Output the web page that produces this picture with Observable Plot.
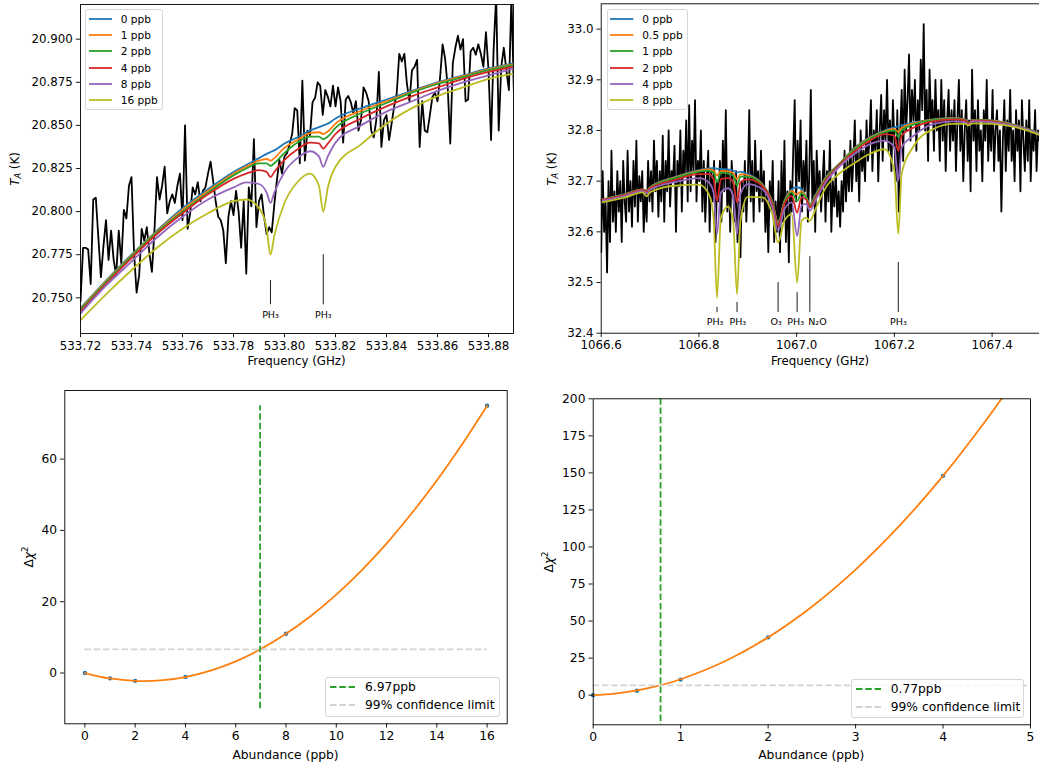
<!DOCTYPE html>
<html><head><meta charset="utf-8">
<script src="https://cdn.jsdelivr.net/npm/d3@7"></script>
<script src="https://cdn.jsdelivr.net/npm/@observablehq/plot@0.6"></script>
<style>
html,body{margin:0;padding:0;background:#fff;}
#fig{position:relative;width:1039px;height:770px;overflow:hidden;font-family:"DejaVu Sans",sans-serif;color:#000;background:#fff;}
.panel{position:absolute;}
.lab{position:absolute;white-space:nowrap;line-height:1;}
.ylab{transform:translate(-50%,-50%) rotate(-90deg);}
.xlab{transform:translate(-50%,-50%);}
.legbox{position:absolute;border:1px solid #d6d6d6;border-radius:3px;background:rgba(255,255,255,0.8);box-sizing:border-box;}
.legtxt{position:absolute;white-space:nowrap;line-height:1;transform:translateY(-50%);}
.legsw{position:absolute;overflow:visible;}
</style></head>
<body><div id="fig"></div>
<script>
// ---------- colours ----------
const tab = ["#1f77b4","#ff7f0e","#2ca02c","#d62728","#9467bd","#bcbd22"];

// ---------- top-left: 533.8 GHz spectrum ----------
const tlStart = 533.720, tlStep = 0.001;
const tlSpectrum = [
20.748,20.779,20.779,20.778,20.758,20.807,20.808,20.785,20.762,20.780,
20.795,20.772,20.789,20.772,20.763,20.789,20.770,20.801,20.796,20.815,
20.820,20.776,20.753,20.763,20.790,20.783,20.791,20.776,20.765,20.789,
20.820,20.807,20.815,20.826,20.799,20.806,20.810,20.805,20.815,20.822,
20.795,20.850,20.790,20.799,20.814,20.810,20.817,20.806,20.812,20.814,
20.822,20.829,20.818,20.806,20.797,20.795,20.789,20.770,20.797,20.806,
20.798,20.812,20.800,20.779,20.806,20.764,20.814,20.803,20.842,20.791,
20.806,20.810,20.797,20.787,20.791,20.788,20.804,20.818,20.830,20.822,
20.832,20.834,20.839,20.845,20.860,
20.8587,20.828,20.876,20.8295,20.847,20.8443,20.8635,20.866,20.875,20.873,
20.856,20.8705,20.8665,20.861,20.873,20.861,20.872,20.864,20.840,20.865,
20.867,20.8635,20.857,20.864,20.847,20.853,20.872,20.869,20.864,20.847,
20.843,20.853,20.881,20.8375,20.853,20.856,20.8415,20.851,20.861,20.8685,
20.8915,20.887,20.8915,20.874,20.864,20.882,20.884,20.888,20.8375,20.864,
20.847,20.846,20.856,20.8665,20.869,20.864,20.8775,20.897,20.8885,20.872,
20.8395,20.886,20.895,20.902,20.894,20.900,20.864,20.865,20.893,20.895,
20.891,20.897,20.8915,20.884,20.904,20.882,20.8415,20.894,20.925,20.847,
20.884,20.895,20.882,20.8705,20.925,20.866
];
const tlModelFreq = [533.72,533.73,533.74,533.75,533.76,533.77,533.78,533.785,533.79,533.793,533.7945,533.796,533.80,533.805,533.81,533.8135,533.8152,533.817,533.82,533.83,533.84,533.85,533.86,533.87,533.88,533.89];
const tl0ppb  = [20.744,20.760,20.775,20.789,20.802,20.813,20.823,20.827,20.831,20.8335,20.8345,20.8355,20.8395,20.843,20.847,20.849,20.850,20.851,20.854,20.860,20.865,20.870,20.875,20.879,20.883,20.886];
const tl1ppb  = [20.7435,20.7595,20.7745,20.7885,20.801,20.812,20.822,20.826,20.8295,20.8305,20.8295,20.831,20.837,20.8415,20.8455,20.846,20.845,20.8465,20.851,20.8585,20.864,20.8695,20.8745,20.8785,20.8825,20.8855];
const tl2ppb  = [20.743,20.759,20.774,20.788,20.800,20.811,20.821,20.825,20.828,20.828,20.8265,20.828,20.834,20.840,20.8435,20.8435,20.842,20.8435,20.8485,20.857,20.863,20.869,20.874,20.878,20.882,20.885];
const tl4ppb  = [20.742,20.758,20.773,20.787,20.799,20.810,20.819,20.822,20.824,20.823,20.820,20.823,20.830,20.836,20.840,20.8395,20.8365,20.8395,20.845,20.854,20.861,20.867,20.872,20.877,20.881,20.884];
const tl8ppb  = [20.741,20.757,20.771,20.785,20.797,20.807,20.814,20.817,20.816,20.811,20.805,20.811,20.823,20.831,20.835,20.832,20.826,20.832,20.840,20.850,20.858,20.864,20.870,20.875,20.879,20.883];
const tl16ppb = [20.737,20.752,20.766,20.779,20.790,20.799,20.806,20.807,20.802,20.790,20.775,20.786,20.805,20.817,20.822,20.815,20.800,20.814,20.826,20.839,20.851,20.860,20.867,20.872,20.877,20.880];
const tlLegend = ["0 ppb","1 ppb","2 ppb","4 ppb","8 ppb","16 ppb"];
const tlLineFreq = [533.7945, 533.8152];
const tlLineTop = [20.760, 20.775];
const tlLineBottom = 20.746;
const tlLabelY = 20.7398;
const tlLabelText = ["PH₃","PH₃"];
const tlXTicks = [533.72,533.74,533.76,533.78,533.80,533.82,533.84,533.86,533.88];
const tlYTicks = [20.750,20.775,20.800,20.825,20.850,20.875,20.900];

// ---------- top-right: 1067 GHz spectrum ----------
const trStart = 1066.600, trStep = 0.003;
const trSpectrum = [
32.56,32.72,32.60,32.66,32.52,32.70,32.58,32.76,32.62,32.68,
32.60,32.72,32.64,32.70,32.58,32.74,32.66,32.62,32.76,32.64,
32.70,32.61,32.74,32.65,32.78,32.62,32.71,32.66,32.72,32.60,
32.68,32.62,32.74,32.66,32.72,32.64,32.78,32.68,32.74,32.63,
32.72,32.66,32.79,32.62,32.74,32.68,32.80,32.65,32.72,32.70,
32.77,32.60,32.74,32.69,32.80,32.64,32.76,32.71,32.82,32.66,
32.85,32.68,32.78,32.72,32.86,32.66,32.74,32.70,32.80,32.64,
32.74,32.62,32.70,32.76,32.60,32.72,32.66,32.74,32.58,32.70,
32.66,32.74,32.62,32.78,32.68,32.84,32.64,32.72,32.60,32.74,
32.68,32.62,32.72,32.58,32.66,32.55,32.70,32.64,32.74,32.62,
32.70,32.84,32.66,32.74,32.62,32.78,32.68,32.72,32.64,32.76,
32.66,32.72,32.60,32.68,32.56,32.70,32.64,32.74,32.58,32.66,
32.60,32.70,32.56,32.74,32.62,32.78,32.58,32.68,32.54,32.70,
32.64,32.76,32.86,32.66,32.78,32.70,32.82,32.64,32.74,32.68,
32.78,32.62,32.72,32.88,32.66,32.74,32.60,32.76,32.68,32.72,
32.64,32.70,32.76,32.62,32.72,32.66,32.78,32.60,32.70,32.65,
32.72,32.63,32.68,32.61,32.70,32.64,32.76,32.66,32.74,32.68,
32.78,32.68,32.74,32.82,32.70,32.76,32.66,32.80,32.72,32.76,
32.70,32.82,32.74,32.78,32.86,32.72,32.80,32.76,32.84,32.70,
32.80,32.87,32.74,32.84,32.78,32.90,32.76,32.82,32.72,32.86,
32.78,32.70,32.84,32.64,32.80,32.88,32.74,32.92,32.80,32.86,
32.95,32.78,32.88,32.82,32.90,32.76,32.86,32.80,32.94,32.84,
33.01,32.80,32.88,32.74,32.92,32.82,32.86,32.76,32.90,32.80,
32.84,32.74,32.90,32.78,32.86,32.72,32.82,32.88,32.76,32.84,
32.78,32.86,32.72,32.82,32.90,32.76,32.84,32.70,32.80,32.86,
32.74,32.82,32.68,32.92,32.78,32.84,32.72,32.86,32.76,32.80,
32.70,32.84,32.78,32.90,32.74,32.82,32.76,32.88,32.72,32.80,
32.84,32.74,32.80,32.64,32.78,32.86,32.72,32.82,32.76,32.88,
32.74,32.80,32.70,32.84,32.76,32.82,32.68,32.86,32.78,32.72,
32.82,32.74,32.86,32.70,32.80,32.76,32.84,32.72,32.80,32.78,
32.79
];
const trModelFreq = [1066.60,1066.65,1066.685,1066.693,1066.70,1066.75,1066.80,1066.82,1066.83,1066.837,1066.845,1066.86,1066.87,1066.878,1066.885,1066.90,1066.93,1066.95,1066.962,1066.975,1066.99,1067.001,1067.01,1067.02,1067.027,1067.04,1067.06,1067.09,1067.12,1067.15,1067.18,1067.20,1067.208,1067.215,1067.24,1067.28,1067.32,1067.345,1067.352,1067.36,1067.40,1067.45,1067.50];
const tr0ppb  = [32.663,32.675,32.684,32.681,32.688,32.708,32.722,32.725,32.726,32.7245,32.724,32.723,32.721,32.717,32.719,32.714,32.694,32.661,32.619,32.661,32.684,32.688,32.684,32.668,32.655,32.675,32.708,32.737,32.767,32.787,32.800,32.806,32.808,32.810,32.816,32.822,32.825,32.822,32.814,32.821,32.820,32.810,32.793];
const tr05ppb = [32.6633,32.6745,32.684,32.6805,32.6875,32.707,32.7205,32.723,32.7215,32.711,32.7205,32.719,32.716,32.704,32.714,32.7115,32.693,32.6595,32.617,32.6595,32.681,32.674,32.680,32.667,32.653,32.6735,32.7065,32.7365,32.7655,32.7855,32.7985,32.803,32.797,32.805,32.814,32.8215,32.824,32.8215,32.8135,32.821,32.8195,32.8095,32.793];
const tr1ppb  = [32.6635,32.674,32.6835,32.680,32.687,32.706,32.719,32.721,32.717,32.698,32.717,32.715,32.711,32.691,32.709,32.709,32.692,32.658,32.615,32.658,32.678,32.661,32.676,32.666,32.651,32.672,32.705,32.736,32.764,32.784,32.797,32.800,32.787,32.800,32.812,32.821,32.823,32.821,32.813,32.821,32.819,32.809,32.793];
const tr2ppb  = [32.663,32.673,32.683,32.679,32.686,32.702,32.714,32.714,32.704,32.661,32.704,32.706,32.698,32.658,32.698,32.704,32.690,32.655,32.612,32.655,32.671,32.638,32.668,32.663,32.648,32.669,32.702,32.734,32.760,32.780,32.793,32.790,32.760,32.790,32.806,32.818,32.822,32.820,32.813,32.820,32.818,32.808,32.792];
const tr4ppb  = [32.661,32.671,32.681,32.676,32.683,32.698,32.706,32.698,32.678,32.596,32.678,32.686,32.671,32.596,32.675,32.694,32.684,32.648,32.602,32.645,32.658,32.592,32.652,32.655,32.642,32.665,32.698,32.731,32.755,32.773,32.780,32.767,32.701,32.767,32.790,32.813,32.818,32.816,32.811,32.818,32.816,32.808,32.792];
const tr8ppb  = [32.658,32.668,32.678,32.670,32.678,32.691,32.693,32.675,32.628,32.470,32.628,32.650,32.622,32.477,32.622,32.669,32.668,32.635,32.579,32.622,32.635,32.500,32.622,32.628,32.622,32.648,32.688,32.717,32.737,32.754,32.763,32.720,32.596,32.715,32.770,32.803,32.813,32.813,32.810,32.814,32.813,32.806,32.790];
const trLegend = ["0 ppb","0.5 ppb","1 ppb","2 ppb","4 ppb","8 ppb"];
const trLineFreq = [1066.837,1066.878,1066.962,1067.001,1067.027,1067.208];
const trLineTop = [32.451,32.4605,32.500,32.480,32.551,32.5395];
const trLineBottom = 32.441;
const trLabelFreq = [1066.833,1066.8795,1066.958,1066.998,1067.0425,1067.2083];
const trLabelY = 32.4223;
const trLabelText = ["PH₃","PH₃","O₃","PH₃","N₂O","PH₃"];
const trXTicks = [1066.6,1066.8,1067.0,1067.2,1067.4];
const trYTicks = [32.4,32.5,32.6,32.7,32.8,32.9,33.0];

// ---------- bottom-left: Δχ² for 533.8 GHz ----------
const blAbund = [0,1,2,4,8,16];
const blChi = [0,-1.5,-2.2,-1.1,11,75];
const blFitX = [0,1,2,3,4,5,6,7,8,9,10,11,12,13,14,15,16];
const blFitY = [0,-1.53,-2.22,-2.09,-1.14,0.65,3.26,6.71,10.98,16.07,22.0,28.75,36.3,44.8,54.0,64.1,75.0];
const blLimit = 6.97;
const blLimitSpan = [-10, 75];
const blConf = 6.63;
const blConfSpan = [0, 16];
const blLegend = ["6.97ppb","99% confidence limit"];
const blXTicks = [0,2,4,6,8,10,12,14,16];
const blYTicks = [0,20,40,60];

// ---------- bottom-right: Δχ² for 1067 GHz ----------
const brAbund = [0,0.5,1,2,4];
const brChi = [0,3,10.5,39,148];
const brFitX = [0,0.25,0.5,0.75,1,1.5,2,2.5,3,3.5,4,4.5,4.75];
const brFitY = [0,1.05,3.19,6.42,10.75,22.69,39,59.69,84.75,114.2,148,186.2,206.9];
const brLimit = 0.77;
const brConf = 6.63;
const brConfSpan = [0, 5];
const brLegend = ["0.77ppb","99% confidence limit"];
const brXTicks = [0,1,2,3,4,5];
const brYTicks = [0,25,50,75,100,125,150,175,200];

// ---------- build ----------
const fig = document.getElementById("fig");
const LW = 1.8;
const dash = "6.5,2.8";

function panel(o) {
  const svg = Plot.plot({
    width: o.w, height: o.h,
    marginLeft: o.ml, marginRight: o.mr, marginTop: o.mt, marginBottom: o.mb,
    style: {fontFamily: "DejaVu Sans, sans-serif", fontSize: o.fs + "px", color: "#000", background: "transparent", overflow: "visible"},
    x: {domain: o.xd},
    y: {domain: o.yd},
    marks: [
      ...o.marks,
      Plot.frame({stroke: "#000", strokeWidth: 0.9}),
      Plot.axisX({ticks: o.xt, tickFormat: o.xf, tickSize: 4.2, tickPadding: 3.5, label: null, stroke: "#000", strokeWidth: 0.9}),
      Plot.axisY({ticks: o.yt, tickFormat: o.yf, tickSize: 4.2, tickPadding: 3.5, label: null, stroke: "#000", strokeWidth: 0.9})
    ]
  });
  const d = document.createElement("div");
  d.className = "panel";
  d.style.left = o.left + "px";
  d.style.top = o.top + "px";
  d.appendChild(svg);
  fig.appendChild(d);
}

function label(html, x, y, fs, rot) {
  const d = document.createElement("div");
  d.className = "lab " + (rot ? "ylab" : "xlab");
  d.style.left = x + "px"; d.style.top = y + "px"; d.style.fontSize = fs + "px";
  d.innerHTML = html;
  fig.appendChild(d);
}

function legend(box, items, colors, dashes, sw1, sw2, tx, rows, fs) {
  const b = document.createElement("div");
  b.className = "legbox";
  b.style.left = box[0] + "px"; b.style.top = box[1] + "px";
  b.style.width = (box[2] - box[0]) + "px"; b.style.height = (box[3] - box[1]) + "px";
  fig.appendChild(b);
  items.forEach((t, i) => {
    const s = document.createElementNS("http://www.w3.org/2000/svg", "svg");
    s.setAttribute("class", "legsw");
    s.setAttribute("width", sw2 - sw1); s.setAttribute("height", 6);
    s.style.left = sw1 + "px"; s.style.top = (rows[i] - 3) + "px";
    s.innerHTML = `<line x1="0" y1="3" x2="${sw2 - sw1}" y2="3" stroke="${colors[i]}" stroke-width="${LW}" ${dashes ? `stroke-dasharray="${dash}"` : ""}/>`;
    fig.appendChild(s);
    const d = document.createElement("div");
    d.className = "legtxt";
    d.style.left = tx + "px"; d.style.top = rows[i] + "px"; d.style.fontSize = fs + "px";
    d.textContent = t;
    fig.appendChild(d);
  });
}

// top-left
const tlSpec = tlSpectrum.map((v, i) => ({f: tlStart + i * tlStep, t: v}));
const tlSeries = [tl0ppb, tl1ppb, tl2ppb, tl4ppb, tl8ppb, tl16ppb];
const tlMarkers = tlLineFreq.map((f, i) => ({f, top: tlLineTop[i], bot: tlLineBottom, ly: tlLabelY, txt: tlLabelText[i]}));
panel({
  left: 0, top: 0, w: 520, h: 362, ml: 80, mr: 7, mt: 4, mb: 29, fs: 11.8,
  xd: [533.72, 533.8898], yd: [20.7293, 20.9201],
  xt: tlXTicks, xf: d3.format(".2f"), yt: tlYTicks, yf: d3.format(".3f"),
  marks: [
    Plot.line(tlSpec, {x: "f", y: "t", stroke: "#000", strokeWidth: LW, clip: true}),
    ...tlSeries.map((arr, k) => Plot.line(arr.map((v, i) => ({f: tlModelFreq[i], t: v})), {x: "f", y: "t", stroke: tab[k], strokeWidth: LW, curve: "monotone-x", clip: true})),
    Plot.ruleX(tlMarkers, {x: "f", y1: "bot", y2: "top", stroke: "#000", strokeWidth: 0.9}),
    Plot.text(tlMarkers, {x: "f", y: "ly", text: "txt", fontSize: 9.5, fill: "#000"})
  ]
});

// top-right
const trSpec = trSpectrum.map((v, i) => ({f: trStart + i * trStep, t: v}));
const trSeries = [tr0ppb, tr05ppb, tr1ppb, tr2ppb, tr4ppb, tr8ppb];
const trMarkers = trLineFreq.map((f, i) => ({f, top: trLineTop[i], bot: trLineBottom, lf: trLabelFreq[i], ly: trLabelY, txt: trLabelText[i]}));
panel({
  left: 520, top: 0, w: 519, h: 362, ml: 80.7, mr: 0, mt: 3.3, mb: 29.3, fs: 11.8,
  xd: [1066.6, 1067.497], yd: [32.4, 33.05],
  xt: trXTicks, xf: d3.format(".1f"), yt: trYTicks, yf: d3.format(".1f"),
  marks: [
    Plot.line(trSpec, {x: "f", y: "t", stroke: "#000", strokeWidth: LW, clip: true}),
    ...trSeries.map((arr, k) => Plot.line(arr.map((v, i) => ({f: trModelFreq[i], t: v})), {x: "f", y: "t", stroke: tab[k], strokeWidth: LW, curve: "monotone-x", clip: true})),
    Plot.ruleX(trMarkers, {x: "f", y1: "bot", y2: "top", stroke: "#000", strokeWidth: 0.9}),
    Plot.text(trMarkers, {x: "lf", y: "ly", text: "txt", fontSize: 9.5, fill: "#000"})
  ]
});

// bottom-left
const blPts = blAbund.map((a, i) => ({a, c: blChi[i]}));
const blFit = blFitX.map((a, i) => ({a, c: blFitY[i]}));
panel({
  left: 0, top: 380, w: 520, h: 390, ml: 64.3, mr: 13.3, mt: 10, mb: 46.7, fs: 12.3,
  xd: [-0.8, 16.8], yd: [-14.25, 79.25],
  xt: blXTicks, xf: d3.format("d"), yt: blYTicks, yf: d3.format("d"),
  marks: [
    Plot.dot(blPts, {x: "a", y: "c", r: 2.2, fill: tab[0], stroke: "none"}),
    Plot.line(blFit, {x: "a", y: "c", stroke: tab[1], strokeWidth: LW, curve: "catmull-rom", clip: true}),
    Plot.ruleX([blLimit], {y1: blLimitSpan[0], y2: blLimitSpan[1], stroke: tab[2], strokeWidth: LW, strokeDasharray: dash}),
    Plot.ruleY([blConf], {x1: blConfSpan[0], x2: blConfSpan[1], stroke: "#d3d3d3", strokeWidth: LW, strokeDasharray: dash})
  ]
});

// bottom-right
const brPts = brAbund.map((a, i) => ({a, c: brChi[i]}));
const brFit = brFitX.map((a, i) => ({a, c: brFitY[i]}));
panel({
  left: 520, top: 380, w: 519, h: 390, ml: 72.7, mr: 9, mt: 18.3, mb: 45.7, fs: 12.3,
  xd: [0, 5], yd: [-20, 200],
  xt: brXTicks, xf: d3.format("d"), yt: brYTicks, yf: d3.format("d"),
  marks: [
    Plot.dot(brPts, {x: "a", y: "c", r: 2.2, fill: tab[0], stroke: "none"}),
    Plot.line(brFit, {x: "a", y: "c", stroke: tab[1], strokeWidth: LW, curve: "catmull-rom", clip: true}),
    Plot.ruleX([brLimit], {stroke: tab[2], strokeWidth: LW, strokeDasharray: dash}),
    Plot.ruleY([brConf], {x1: brConfSpan[0], x2: brConfSpan[1], stroke: "#d3d3d3", strokeWidth: LW, strokeDasharray: dash})
  ]
});

// axis labels
const tA = '<i>T</i><span style="font-size:0.7em;font-style:italic;vertical-align:-0.3em">A</span> (K)';
label(tA, 16, 168.5, 11.8, true);
label(tA, 553, 168.5, 11.8, true);
label("Frequency (GHz)", 296.5, 362, 11.8, false);
label("Frequency (GHz)", 820, 362, 11.8, false);
const dchi = 'Δ<i>χ</i><span style="font-size:0.7em;vertical-align:0.6em">2</span>';
label(dchi, 28, 556.5, 12.3, true);
label(dchi, 548, 562, 12.3, true);
label("Abundance (ppb)", 285.5, 755, 12.3, false);
label("Abundance (ppb)", 811.3, 755, 12.3, false);

// legends
const rows6 = [18.7, 35, 51.3, 67.7, 84, 100.3];
legend([85, 9.3, 162.7, 110.3], tlLegend, tab, false, 89, 112, 120.7, rows6, 10.6);
legend([606.7, 9.3, 688.3, 110.3], trLegend, tab, false, 610, 633.3, 642.3, rows6, 10.6);
legend([325, 676.7, 500, 717.3], blLegend, [tab[2], "#d3d3d3"], true, 330, 355, 365, [686.7, 705], 12.3);
legend([850.7, 679, 1024, 718], brLegend, [tab[2], "#d3d3d3"], true, 855.7, 880.7, 890.7, [689, 706.7], 12.3);
</script>
</body></html>
